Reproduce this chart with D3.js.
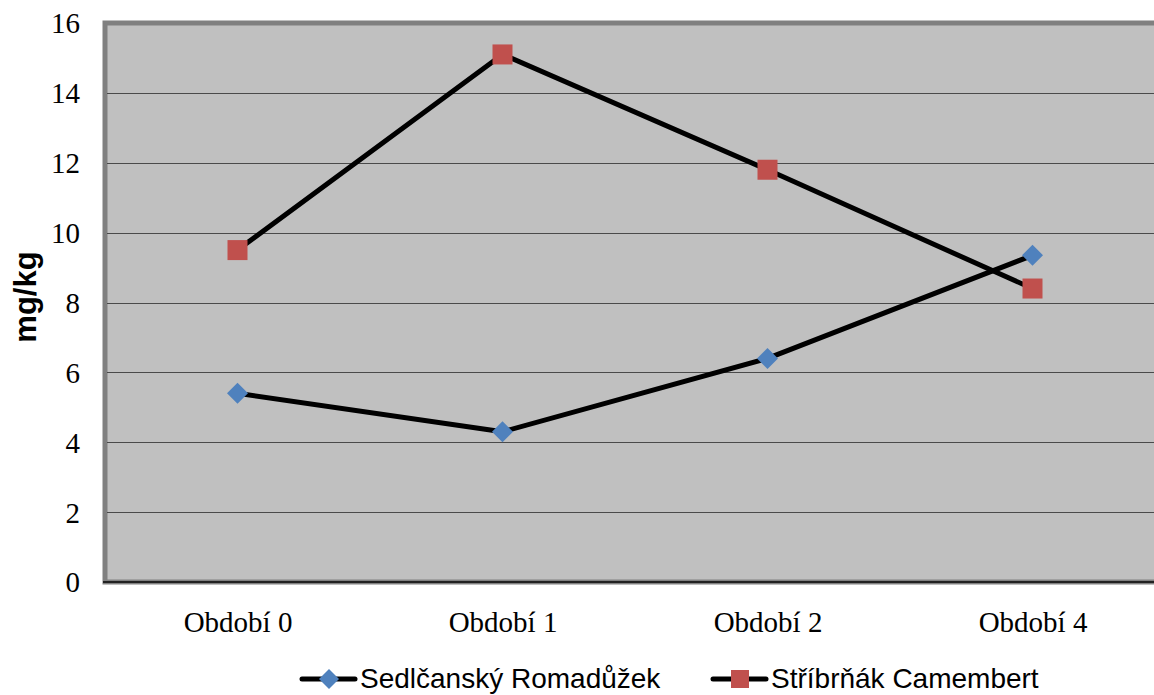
<!DOCTYPE html>
<html>
<head>
<meta charset="utf-8">
<script src="https://cdn.jsdelivr.net/npm/d3@7"></script>
<style>
  html, body { margin: 0; padding: 0; background: #fff; }
  svg { display: block; }
</style>
</head>
<body>
<svg id="chart" width="1154" height="695"></svg>
<script>
// Periods on the x axis
const categories = ["Období 0", "Období 1", "Období 2", "Období 4"];
// Series values (mg/kg)
const romaduzek = [5.4, 4.3, 6.4, 9.35];
const camembert = [9.5, 15.1, 11.8, 8.4];
const seriesNames = ["Sedlčanský Romadůžek", "Stříbrňák Camembert"];
const yTicks = [0, 2, 4, 6, 8, 10, 12, 14, 16];

const svg = d3.select("#chart");
const plot = { left: 105, right: 1165, top: 23, bottom: 582 };

const x = d3.scalePoint().domain(categories).range([plot.left, plot.right]).padding(0.5);
const y = d3.scaleLinear().domain([0, 16]).range([plot.bottom, plot.top]);

// Plot area background and frame
svg.append("rect")
  .attr("x", plot.left).attr("y", plot.top)
  .attr("width", plot.right - plot.left).attr("height", plot.bottom - plot.top)
  .attr("fill", "#c0c0c0").attr("stroke", "#808080").attr("stroke-width", 5);

// Horizontal gridlines
svg.append("g")
  .selectAll("line")
  .data(yTicks.filter(d => d > 0 && d < 16))
  .join("line")
  .attr("x1", plot.left + 2).attr("x2", plot.right)
  .attr("y1", d => Math.round(y(d)) + 0.5).attr("y2", d => Math.round(y(d)) + 0.5)
  .attr("stroke", "#4a4a4a").attr("stroke-width", 1);

// Y axis labels
const yAxis = d3.axisLeft(y).tickValues(yTicks).tickSize(0).tickPadding(0);
const gy = svg.append("g").attr("transform", "translate(80,0)").call(yAxis);
gy.select(".domain").remove();
gy.selectAll("text")
  .attr("font-family", "'Liberation Serif', 'Times New Roman', serif")
  .attr("font-size", 29).attr("fill", "#000").attr("dy", "0.34em");

// X axis
const xAxis = d3.axisBottom(x).tickSize(0).tickPadding(0);
const gx = svg.append("g").attr("transform", `translate(0,${plot.bottom})`).call(xAxis);
gx.select(".domain").remove();
gx.selectAll("text")
  .attr("font-family", "'Liberation Serif', 'Times New Roman', serif")
  .attr("font-size", 29).attr("fill", "#000").attr("y", 50).attr("dy", 0);

// Category axis line
svg.append("line")
  .attr("x1", plot.left - 2).attr("x2", plot.right)
  .attr("y1", plot.bottom).attr("y2", plot.bottom)
  .attr("stroke", "#222").attr("stroke-width", 2);

// Axis title
svg.append("text")
  .attr("transform", "translate(36,297) rotate(-90)")
  .attr("text-anchor", "middle")
  .attr("font-family", "'Liberation Sans', Arial, sans-serif")
  .attr("font-weight", "bold").attr("font-size", 31)
  .text("mg/kg");

// Lines
const line = d3.line().x((d, i) => x(categories[i])).y(d => y(d));
[romaduzek, camembert].forEach(vals => {
  svg.append("path").datum(vals)
    .attr("d", line).attr("fill", "none")
    .attr("stroke", "#000").attr("stroke-width", 5).attr("stroke-linejoin", "round");
});

// Markers
const diamond = d3.symbol().type(d3.symbolSquare).size(220);
svg.append("g").selectAll("path")
  .data(romaduzek).join("path")
  .attr("d", diamond)
  .attr("transform", (d, i) => `translate(${x(categories[i])},${y(d)}) rotate(45)`)
  .attr("fill", "#4f81bd");

svg.append("g").selectAll("rect")
  .data(camembert).join("rect")
  .attr("x", (d, i) => x(categories[i]) - 10).attr("y", d => y(d) - 10)
  .attr("width", 20).attr("height", 20)
  .attr("fill", "#c0504d");

// Legend
const legend = svg.append("g");
const legendItems = [
  { name: seriesNames[0], x0: 302, type: "diamond", color: "#4f81bd" },
  { name: seriesNames[1], x0: 713, type: "square", color: "#c0504d" }
];
const ly = 679;
legendItems.forEach(it => {
  legend.append("line")
    .attr("x1", it.x0).attr("x2", it.x0 + 53).attr("y1", ly).attr("y2", ly)
    .attr("stroke", "#000").attr("stroke-width", 5).attr("stroke-linecap", "round");
  const cx = it.x0 + 27;
  if (it.type === "diamond") {
    legend.append("path")
      .attr("d", d3.symbol().type(d3.symbolSquare).size(200))
      .attr("transform", `translate(${cx},${ly}) rotate(45)`)
      .attr("fill", it.color);
  } else {
    legend.append("rect")
      .attr("x", cx - 9).attr("y", ly - 9).attr("width", 18).attr("height", 18)
      .attr("fill", it.color);
  }
  legend.append("text")
    .attr("x", it.x0 + 58).attr("y", 688)
    .attr("font-family", "'Liberation Sans', Arial, sans-serif")
    .attr("font-size", 28).attr("fill", "#000")
    .text(it.name);
});
</script>
</body>
</html>
